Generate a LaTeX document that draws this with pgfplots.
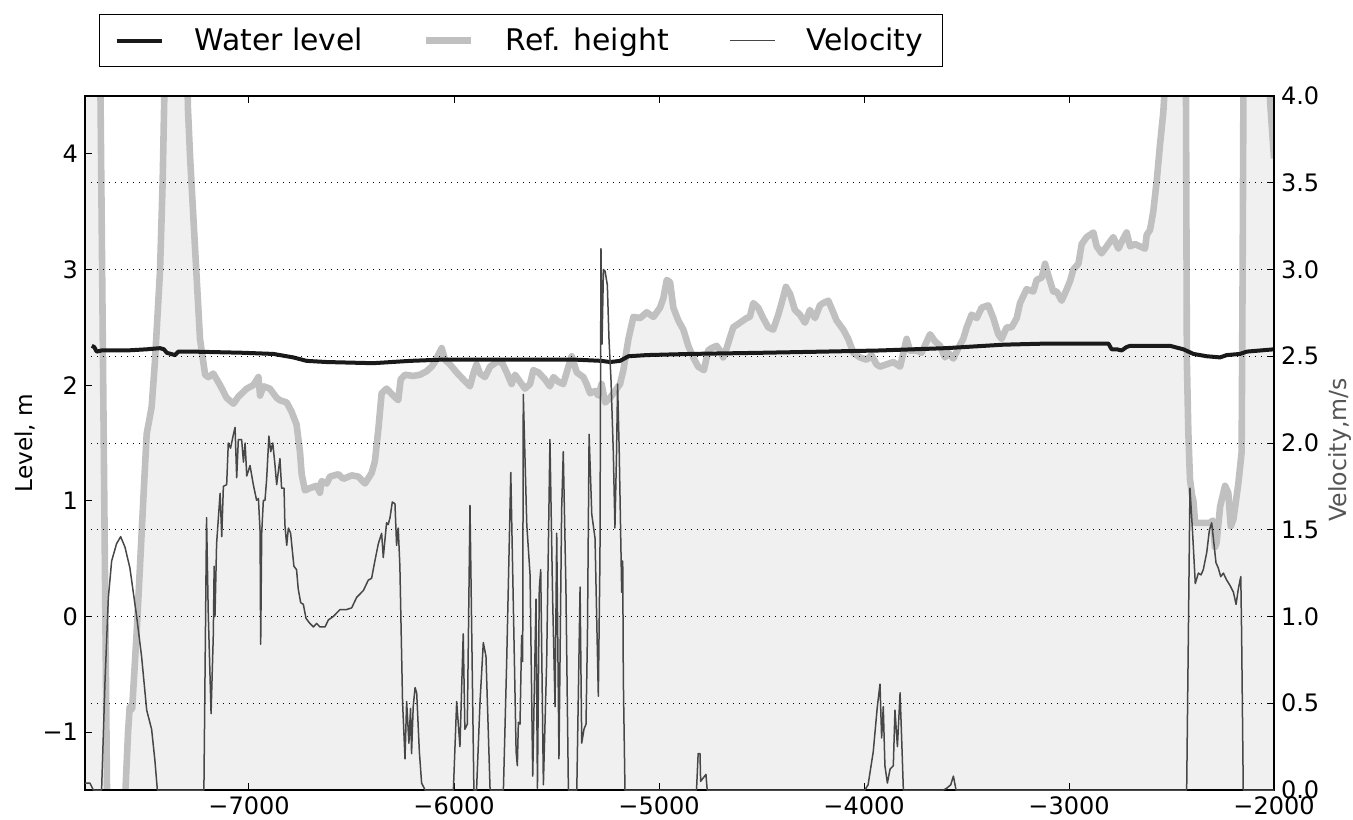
\documentclass[border=0pt]{standalone}
\usepackage{fontspec}
\setmainfont{DejaVu Sans}
\usepackage{pgfplots}
\pgfplotsset{compat=1.18}
\definecolor{refgray}{HTML}{C0C0C0}
\definecolor{fillgray}{HTML}{F0F0F0}
\definecolor{velgray}{HTML}{474747}
\definecolor{wl}{HTML}{1A1A1A}
\definecolor{lblgray}{HTML}{555555}

\pgfplotsset{
  base/.style={
    scale only axis, width=594.5pt, height=347pt,
    at={(0pt,0pt)}, anchor=south west,
    xmin=-7800, xmax=-2000,
    tick align=inside, major tick length=3.5pt,
    tick style={black, line width=0.5pt},
    axis line style={line width=0.6pt},
    ticklabel style={font=\fontsize{12}{14}\selectfont},
  },
}

\begin{document}
\begin{tikzpicture}
\useasboundingbox (-42.5pt,-14.5pt) rectangle (634pt,395pt);
\begin{axis}[base,
  axis on top,
  ymin=-1.5, ymax=4.5,
  ytick={-1,0,1,2,3,4}, yticklabels={−1,0,1,2,3,4},
  ytick pos=left,
  xtick={-7000,-6000,-5000,-4000,-3000,-2000},
  xticklabels={−7000,−6000,−5000,−4000,−3000,−2000},
  xtick pos=both, xticklabel pos=lower,
  ylabel={Level, m},
  ylabel style={font=\fontsize{11.6}{13}\selectfont, at={(axis description cs:-0.0505,0.5)}, anchor=center},
]
% filled area under the reference height (closed at the bottom, below the visible range)
\addplot[fill=fillgray, draw=none, forget plot] coordinates {
(-7800,-3)
(-7800,7) (-7727,5) (-7690,-2) (-7605,-1.6) (-7590,-1.0) (-7582,-0.78) (-7570,-0.8) (-7548,-0.14)
(-7515,1.03) (-7499,1.58) (-7475,1.81) (-7459,2.2) (-7434,2.99) (-7421,3.77) (-7412,4.6) (-7405,6)
(-7310,6) (-7298,4.4) (-7287,3.96) (-7263,3.18) (-7239,2.40) (-7214,2.09) (-7198,2.07) (-7174,2.10)
(-7141,2.00) (-7109,1.89) (-7076,1.84) (-7052,1.90) (-7011,1.97) (-6979,2.00) (-6954,2.07) (-6946,1.91)
(-6930,1.99) (-6898,1.97) (-6865,1.89) (-6849,1.87) (-6816,1.85) (-6792,1.77) (-6768,1.66) (-6751,1.42)
(-6743,1.23) (-6727,1.09) (-6703,1.11) (-6670,1.13) (-6654,1.07) (-6646,1.17) (-6621,1.15) (-6605,1.21)
(-6564,1.23) (-6540,1.19) (-6499,1.22) (-6467,1.21) (-6434,1.15) (-6402,1.24) (-6386,1.34) (-6369,1.62)
(-6353,1.93) (-6329,1.97) (-6296,1.91) (-6272,1.87) (-6260,2.05) (-6239,2.09) (-6199,2.08) (-6166,2.09)
(-6134,2.12) (-6109,2.16) (-6093,2.20) (-6077,2.26) (-6060,2.32) (-6044,2.22) (-6020,2.18) (-5987,2.11)
(-5955,2.05) (-5922,1.99) (-5906,2.10) (-5890,2.18) (-5873,2.10) (-5849,2.07) (-5824,2.16) (-5792,2.20)
(-5767,2.20) (-5743,2.11) (-5719,2.01) (-5702,2.09) (-5678,2.03) (-5654,1.97) (-5629,2.01) (-5613,2.13)
(-5588,2.11) (-5556,2.05) (-5532,1.99) (-5515,2.07) (-5491,2.03) (-5467,2.01) (-5442,2.16) (-5426,2.25)
(-5401,2.11) (-5369,2.07) (-5353,2.01) (-5336,1.93) (-5312,1.95) (-5296,1.91) (-5280,2.01) (-5263,1.85)
(-5239,1.89) (-5214,1.95) (-5190,2.01) (-5174,2.13) (-5149,2.40) (-5125,2.59) (-5092,2.58) (-5060,2.63)
(-5027,2.59) (-4995,2.67) (-4979,2.75) (-4962,2.91) (-4946,2.89) (-4930,2.67) (-4906,2.56) (-4881,2.48)
(-4857,2.34) (-4833,2.24) (-4809,2.16) (-4781,2.13) (-4760,2.30) (-4744,2.32) (-4719,2.34) (-4703,2.30)
(-4687,2.24) (-4670,2.32) (-4638,2.50) (-4605,2.54) (-4573,2.58) (-4557,2.59) (-4540,2.71) (-4516,2.67)
(-4492,2.58) (-4467,2.50) (-4443,2.48) (-4418,2.61) (-4402,2.71) (-4381,2.85) (-4361,2.79) (-4337,2.65)
(-4313,2.61) (-4288,2.54) (-4264,2.65) (-4239,2.58) (-4215,2.69) (-4199,2.71) (-4174,2.73) (-4150,2.63)
(-4134,2.56) (-4101,2.48) (-4077,2.40) (-4052,2.28) (-4020,2.24) (-3987,2.22) (-3963,2.26) (-3939,2.18)
(-3922,2.16) (-3890,2.18) (-3857,2.20) (-3824,2.16) (-3808,2.28) (-3792,2.40) (-3776,2.30) (-3743,2.30)
(-3719,2.28) (-3678,2.44) (-3654,2.38) (-3629,2.34) (-3605,2.24) (-3589,2.28) (-3564,2.23) (-3540,2.32)
(-3516,2.40) (-3499,2.50) (-3475,2.61) (-3450,2.58) (-3426,2.67) (-3394,2.69) (-3369,2.58) (-3345,2.44)
(-3329,2.40) (-3304,2.50) (-3280,2.50) (-3255,2.58) (-3239,2.71) (-3207,2.83) (-3174,2.81) (-3158,2.91)
(-3133,2.93) (-3117,3.05) (-3101,2.95) (-3077,2.81) (-3060,2.81) (-3036,2.73) (-3011,2.83) (-2995,2.90)
(-2979,3.00) (-2954,3.05) (-2938,3.22) (-2914,3.28) (-2881,3.32) (-2865,3.20) (-2841,3.14) (-2816,3.20)
(-2784,3.28) (-2759,3.18) (-2743,3.24) (-2719,3.32) (-2702,3.20) (-2678,3.22) (-2654,3.20) (-2629,3.18)
(-2621,3.30) (-2605,3.34) (-2589,3.50) (-2572,3.77) (-2556,4.08) (-2540,4.36) (-2525,4.8) (-2510,6)
(-2432,6) (-2425,2.2) (-2418,1.6) (-2410,1.19) (-2400,1.05) (-2393,1.00) (-2385,0.81) (-2353,0.81)
(-2312,0.81) (-2299,0.83) (-2288,0.60) (-2280,0.64) (-2263,0.95) (-2239,1.13) (-2223,1.07) (-2211,0.78)
(-2198,0.84) (-2174,1.15) (-2158,1.42) (-2153,3.0) (-2148,5) (-2040,6) (-2019,4.45) (-2000,3.96)
(-2000,-3)
};
% reference height line
\addplot[refgray, line width=3.3pt, line join=round, forget plot] coordinates {
(-7800,7) (-7727,5) (-7690,-2) (-7605,-1.6) (-7590,-1.0) (-7582,-0.78) (-7570,-0.8) (-7548,-0.14)
(-7515,1.03) (-7499,1.58) (-7475,1.81) (-7459,2.2) (-7434,2.99) (-7421,3.77) (-7412,4.6) (-7405,6)
(-7310,6) (-7298,4.4) (-7287,3.96) (-7263,3.18) (-7239,2.40) (-7214,2.09) (-7198,2.07) (-7174,2.10)
(-7141,2.00) (-7109,1.89) (-7076,1.84) (-7052,1.90) (-7011,1.97) (-6979,2.00) (-6954,2.07) (-6946,1.91)
(-6930,1.99) (-6898,1.97) (-6865,1.89) (-6849,1.87) (-6816,1.85) (-6792,1.77) (-6768,1.66) (-6751,1.42)
(-6743,1.23) (-6727,1.09) (-6703,1.11) (-6670,1.13) (-6654,1.07) (-6646,1.17) (-6621,1.15) (-6605,1.21)
(-6564,1.23) (-6540,1.19) (-6499,1.22) (-6467,1.21) (-6434,1.15) (-6402,1.24) (-6386,1.34) (-6369,1.62)
(-6353,1.93) (-6329,1.97) (-6296,1.91) (-6272,1.87) (-6260,2.05) (-6239,2.09) (-6199,2.08) (-6166,2.09)
(-6134,2.12) (-6109,2.16) (-6093,2.20) (-6077,2.26) (-6060,2.32) (-6044,2.22) (-6020,2.18) (-5987,2.11)
(-5955,2.05) (-5922,1.99) (-5906,2.10) (-5890,2.18) (-5873,2.10) (-5849,2.07) (-5824,2.16) (-5792,2.20)
(-5767,2.20) (-5743,2.11) (-5719,2.01) (-5702,2.09) (-5678,2.03) (-5654,1.97) (-5629,2.01) (-5613,2.13)
(-5588,2.11) (-5556,2.05) (-5532,1.99) (-5515,2.07) (-5491,2.03) (-5467,2.01) (-5442,2.16) (-5426,2.25)
(-5401,2.11) (-5369,2.07) (-5353,2.01) (-5336,1.93) (-5312,1.95) (-5296,1.91) (-5280,2.01) (-5263,1.85)
(-5239,1.89) (-5214,1.95) (-5190,2.01) (-5174,2.13) (-5149,2.40) (-5125,2.59) (-5092,2.58) (-5060,2.63)
(-5027,2.59) (-4995,2.67) (-4979,2.75) (-4962,2.91) (-4946,2.89) (-4930,2.67) (-4906,2.56) (-4881,2.48)
(-4857,2.34) (-4833,2.24) (-4809,2.16) (-4781,2.13) (-4760,2.30) (-4744,2.32) (-4719,2.34) (-4703,2.30)
(-4687,2.24) (-4670,2.32) (-4638,2.50) (-4605,2.54) (-4573,2.58) (-4557,2.59) (-4540,2.71) (-4516,2.67)
(-4492,2.58) (-4467,2.50) (-4443,2.48) (-4418,2.61) (-4402,2.71) (-4381,2.85) (-4361,2.79) (-4337,2.65)
(-4313,2.61) (-4288,2.54) (-4264,2.65) (-4239,2.58) (-4215,2.69) (-4199,2.71) (-4174,2.73) (-4150,2.63)
(-4134,2.56) (-4101,2.48) (-4077,2.40) (-4052,2.28) (-4020,2.24) (-3987,2.22) (-3963,2.26) (-3939,2.18)
(-3922,2.16) (-3890,2.18) (-3857,2.20) (-3824,2.16) (-3808,2.28) (-3792,2.40) (-3776,2.30) (-3743,2.30)
(-3719,2.28) (-3678,2.44) (-3654,2.38) (-3629,2.34) (-3605,2.24) (-3589,2.28) (-3564,2.23) (-3540,2.32)
(-3516,2.40) (-3499,2.50) (-3475,2.61) (-3450,2.58) (-3426,2.67) (-3394,2.69) (-3369,2.58) (-3345,2.44)
(-3329,2.40) (-3304,2.50) (-3280,2.50) (-3255,2.58) (-3239,2.71) (-3207,2.83) (-3174,2.81) (-3158,2.91)
(-3133,2.93) (-3117,3.05) (-3101,2.95) (-3077,2.81) (-3060,2.81) (-3036,2.73) (-3011,2.83) (-2995,2.90)
(-2979,3.00) (-2954,3.05) (-2938,3.22) (-2914,3.28) (-2881,3.32) (-2865,3.20) (-2841,3.14) (-2816,3.20)
(-2784,3.28) (-2759,3.18) (-2743,3.24) (-2719,3.32) (-2702,3.20) (-2678,3.22) (-2654,3.20) (-2629,3.18)
(-2621,3.30) (-2605,3.34) (-2589,3.50) (-2572,3.77) (-2556,4.08) (-2540,4.36) (-2525,4.8) (-2510,6)
(-2432,6) (-2425,2.2) (-2418,1.6) (-2410,1.19) (-2400,1.05) (-2393,1.00) (-2385,0.81) (-2353,0.81)
(-2312,0.81) (-2299,0.83) (-2288,0.60) (-2280,0.64) (-2263,0.95) (-2239,1.13) (-2223,1.07) (-2211,0.78)
(-2198,0.84) (-2174,1.15) (-2158,1.42) (-2153,3.0) (-2148,5) (-2040,6) (-2019,4.45) (-2000,3.96)
};
% water level
\addplot[wl, line width=2pt, line join=round, forget plot] coordinates {
(-7767,2.34) (-7755,2.33) (-7743,2.29) (-7719,2.30) (-7597,2.30) (-7499,2.31) (-7434,2.32) (-7415,2.31)
(-7401,2.28) (-7361,2.26) (-7345,2.29) (-7272,2.29) (-7028,2.28) (-6881,2.27) (-6784,2.24) (-6719,2.21)
(-6621,2.20) (-6394,2.19) (-6215,2.21) (-6071,2.22) (-5600,2.22) (-5400,2.22) (-5280,2.21) (-5239,2.20)
(-5190,2.21) (-5149,2.25) (-5060,2.26) (-4849,2.27) (-4500,2.28) (-4200,2.29) (-3922,2.30) (-3600,2.32)
(-3320,2.35) (-3100,2.36) (-2808,2.36) (-2792,2.31) (-2767,2.31) (-2743,2.30) (-2719,2.33) (-2702,2.34)
(-2507,2.34) (-2442,2.31) (-2393,2.27) (-2328,2.25) (-2263,2.24) (-2231,2.26) (-2166,2.27) (-2133,2.29)
(-2000,2.31)
};
\end{axis}
\begin{axis}[base,
  ymin=0, ymax=4,
  axis x line=none,
  axis y line*=right,
  ytick={0,0.5,1,1.5,2,2.5,3,3.5,4},
  yticklabels={0.0,0.5,1.0,1.5,2.0,2.5,3.0,3.5,4.0},
  ymajorgrids,
  grid style={black, line width=0.5pt, dash pattern=on 0.7pt off 2.3pt},
  ylabel={Velocity,m/s},
  ylabel style={font=\fontsize{11.8}{13}\selectfont, text=lblgray, at={(axis description cs:1.0555,0.49)}, anchor=center},
  legend columns=3,
  legend image code/.code={\draw[#1] (0pt,0pt) -- (22.5pt,0pt);},
  legend style={at={(axis description cs:0.0118,1.118)}, anchor=north west,
    draw=black, line width=0.6pt, fill=white,
    font=\fontsize{14.9}{17}\selectfont,
    inner xsep=7.5pt, inner ysep=4.5pt,
    nodes={inner xsep=2pt, inner ysep=2pt},
    /tikz/every odd column/.append style={column sep=13.5pt},
    /tikz/every even column/.append style={column sep=28pt},
  },
  legend cell align=left,
]
\addlegendimage{wl, line width=2pt}
\addlegendentry{Water level}
\addlegendimage{refgray, line width=3.3pt}
\addlegendentry{Ref. height}
\addplot[velgray, line width=0.75pt, line join=round] coordinates {
(-7800,0.04) (-7776,0.04) (-7759,0) (-7719,0) (-7702,0.64) (-7686,1.11) (-7670,1.32) (-7646,1.42)
(-7626,1.46) (-7605,1.40) (-7581,1.28) (-7548,1.00) (-7524,0.77) (-7499,0.46) (-7475,0.35) (-7459,0.17)
(-7447,0) (-7220,0) (-7207,1.57) (-7199,1.03) (-7185,0.44) (-7174,0.90) (-7170,1.29) (-7166,1.0)
(-7158,1.42) (-7141,1.71) (-7133,1.46) (-7125,1.75) (-7109,1.76) (-7101,2.0) (-7090,1.97) (-7076,2.05)
(-7068,2.09) (-7060,1.80) (-7052,2.02) (-7036,2.02) (-7027,1.89) (-7019,2.0) (-7011,1.81) (-6995,1.87)
(-6979,1.76) (-6963,1.67) (-6954,1.68) (-6946,1.49) (-6943,0.84) (-6938,1.48) (-6930,1.67) (-6922,1.67)
(-6914,1.79) (-6903,2.04) (-6894,1.95) (-6884,2.0) (-6873,1.87) (-6865,1.76) (-6849,1.91) (-6841,1.74)
(-6829,1.74) (-6825,1.53) (-6816,1.41) (-6808,1.51) (-6797,1.48) (-6781,1.29) (-6768,1.27) (-6760,1.16)
(-6748,1.08) (-6735,1.07) (-6722,0.99) (-6703,0.96) (-6686,0.94) (-6670,0.96) (-6654,0.94) (-6629,0.94)
(-6613,0.98) (-6589,1.00) (-6556,1.04) (-6524,1.04) (-6499,1.05) (-6475,1.11) (-6442,1.15) (-6418,1.21)
(-6402,1.22) (-6386,1.32) (-6369,1.42) (-6353,1.48) (-6345,1.34) (-6329,1.54) (-6321,1.53) (-6312,1.57)
(-6301,1.66) (-6288,1.65) (-6280,1.41) (-6272,1.51) (-6264,1.29) (-6251,0.51) (-6239,0.18) (-6231,0.51)
(-6220,0.27) (-6212,0.47) (-6207,0.21) (-6199,0.48) (-6190,0.59) (-6182,0.56) (-6169,0.22) (-6158,0.04)
(-6141,0) (-6003,0) (-5987,0.51) (-5971,0.25) (-5955,0.90) (-5947,0.35) (-5935,0.38) (-5922,1.64)
(-5903,0) (-5890,0) (-5873,0.51) (-5857,0.85) (-5844,0.77) (-5824,0) (-5759,0) (-5743,0.74)
(-5723,1.83) (-5710,1.03) (-5697,0.22) (-5691,0.14) (-5686,0.39) (-5678,0.38) (-5670,0.89) (-5665,0.74)
(-5662,2.28) (-5645,1.53) (-5629,1.24) (-5616,0.08) (-5600,1.10) (-5593,0.01) (-5584,1.16) (-5577,1.27)
(-5564,0.03) (-5548,0.74) (-5532,2.02) (-5519,1.11) (-5507,0.48) (-5499,1.48) (-5488,0.18) (-5475,1.61)
(-5467,1.95) (-5454,1.16) (-5442,0) (-5401,0) (-5385,1.17) (-5377,0.27) (-5366,0.35) (-5356,0.38)
(-5349,0.90) (-5341,2.05) (-5328,1.59) (-5312,1.45) (-5296,0.54) (-5288,1.34) (-5283,3.12) (-5278,2.57)
(-5271,3.0) (-5263,2.99) (-5252,2.91) (-5244,2.6) (-5234,2.36) (-5223,1.95) (-5215,1.51) (-5207,1.95)
(-5202,2.34) (-5194,1.95) (-5182,1.14) (-5177,1.32) (-5174,0.64) (-5166,0) (-4817,0) (-4809,0.21)
(-4800,0.21) (-4797,0.05) (-4784,0.07) (-4771,0.09) (-4765,0) (-3996,0) (-3980,0.03) (-3955,0.22)
(-3935,0.48) (-3922,0.61) (-3914,0.30) (-3906,0.48) (-3898,0.14) (-3886,0.04) (-3873,0.12) (-3857,0.14)
(-3849,0.46) (-3837,0.25) (-3824,0.56) (-3815,0.25) (-3808,0) (-3613,0) (-3597,0.01) (-3577,0.03)
(-3564,0.08) (-3551,0) (-2426,0) (-2410,1.74) (-2397,1.48) (-2384,1.19) (-2369,1.25) (-2356,1.24)
(-2345,1.27) (-2328,1.37) (-2315,1.50) (-2304,1.54) (-2293,1.42) (-2283,1.31) (-2272,1.28) (-2260,1.23)
(-2247,1.25) (-2231,1.21) (-2215,1.18) (-2198,1.14) (-2185,1.07) (-2174,1.16) (-2162,1.23) (-2158,0.90)
(-2150,0) (-2000,0)
};
\addlegendentry{Velocity}
\end{axis}
\end{tikzpicture}
\end{document}
